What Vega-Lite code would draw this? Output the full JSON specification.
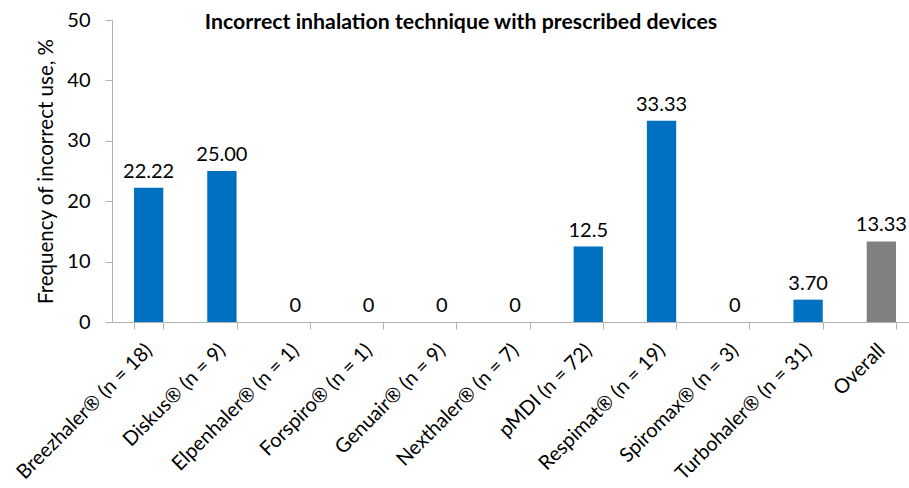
{
  "$schema": "https://vega.github.io/schema/vega-lite/v6.json",
  "autosize": {"type": "none"},
  "padding": {"left": 112, "top": 20, "right": 0, "bottom": 166},
  "width": 806,
  "height": 302,
  "background": "white",
  "config": {"view": {"stroke": null}, "font": "Lato"},
  "title": {
    "text": "Incorrect inhalation technique with prescribed devices",
    "orient": "top",
    "anchor": "middle",
    "frame": "group",
    "font": "Lato",
    "fontSize": 21.3,
    "fontWeight": "bold",
    "color": "#000000",
    "baseline": "alphabetic",
    "offset": 0,
    "dy": 40,
    "dx": -54
  },
  "data": {
    "values": [
      {"device": "Breezhaler® (n = 18)", "value": 22.22, "label": "22.22", "group": "device"},
      {"device": "Diskus® (n = 9)", "value": 25.0, "label": "25.00", "group": "device"},
      {"device": "Elpenhaler® (n = 1)", "value": 0, "label": "0", "group": "device"},
      {"device": "Forspiro® (n = 1)", "value": 0, "label": "0", "group": "device"},
      {"device": "Genuair® (n = 9)", "value": 0, "label": "0", "group": "device"},
      {"device": "Nexthaler® (n = 7)", "value": 0, "label": "0", "group": "device"},
      {"device": "pMDI (n = 72)", "value": 12.5, "label": "12.5", "group": "device"},
      {"device": "Respimat® (n = 19)", "value": 33.33, "label": "33.33", "group": "device"},
      {"device": "Spiromax® (n = 3)", "value": 0, "label": "0", "group": "device"},
      {"device": "Turbohaler® (n = 31)", "value": 3.7, "label": "3.70", "group": "device"},
      {"device": "Overall", "value": 13.33, "label": "13.33", "group": "overall"}
    ]
  },
  "encoding": {
    "x": {
      "field": "device",
      "type": "nominal",
      "sort": null,
      "scale": {"paddingInner": 0.6, "paddingOuter": 0.3},
      "axis": {
        "title": null,
        "labelAngle": -45,
        "labelAlign": "right",
        "labelBaseline": "middle",
        "labelFont": "Lato",
        "labelFontSize": 20,
        "labelColor": "#000000",
        "labelPadding": 18,
        "labelLimit": 400,
        "tickBand": "extent",
        "tickSize": 7,
        "tickColor": "#B3B3B3",
        "domainColor": "#B3B3B3",
        "grid": false
      }
    },
    "y": {
      "field": "value",
      "type": "quantitative",
      "scale": {"domain": [0, 50], "nice": false},
      "axis": {
        "title": "Frequency of incorrect use, %",
        "titleFont": "Lato",
        "titleFontSize": 20.5,
        "titleFontWeight": "normal",
        "titleColor": "#000000",
        "titlePadding": 10,
        "values": [0, 10, 20, 30, 40, 50],
        "labelFont": "Lato",
        "labelFontSize": 20,
        "labelColor": "#000000",
        "labelPadding": 15,
        "tickSize": 7,
        "tickColor": "#B3B3B3",
        "domainColor": "#B3B3B3",
        "grid": false
      }
    }
  },
  "layer": [
    {
      "mark": {"type": "bar"},
      "encoding": {
        "color": {
          "field": "group",
          "type": "nominal",
          "scale": {"domain": ["device", "overall"], "range": ["#0070C0", "#808080"]},
          "legend": null
        }
      }
    },
    {
      "mark": {"type": "text", "baseline": "bottom", "dy": -6, "font": "Lato", "fontSize": 20, "color": "#000000"},
      "encoding": {"text": {"field": "label"}}
    }
  ]
}
